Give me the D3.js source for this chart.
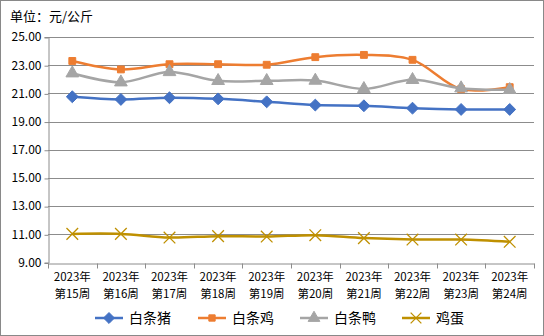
<!DOCTYPE html>
<html><head><meta charset="utf-8">
<script src="https://cdn.jsdelivr.net/npm/d3@7"></script>
<style>body{margin:0;background:#fff}svg{display:block}text{font-family:"Noto Sans CJK SC","Noto Sans",sans-serif;fill:#000}</style>
</head><body><svg id="c" width="544" height="336"></svg>
<script>
const categories = ["2023年|第15周","2023年|第16周","2023年|第17周","2023年|第18周","2023年|第19周","2023年|第20周","2023年|第21周","2023年|第22周","2023年|第23周","2023年|第24周"];
const pork = [20.76,20.57,20.69,20.61,20.40,20.17,20.12,19.95,19.86,19.86];
const chicken = [23.30,22.70,23.07,23.07,23.03,23.57,23.73,23.38,21.30,21.44];
const duck = [22.43,21.79,22.52,21.89,21.89,21.91,21.32,21.96,21.37,21.25];
const egg = [11.03,11.03,10.77,10.87,10.84,10.94,10.73,10.63,10.63,10.47];
const yTicks = [9,11,13,15,17,19,21,23,25];
const seriesNames = ["白条猪","白条鸡","白条鸭","鸡蛋"];
const title = "单位：元/公斤";

const svg = d3.select("#c");
svg.append("rect").attr("x",0.5).attr("y",0.5).attr("width",543).attr("height",335).attr("fill","#fff").attr("stroke","#898989");
svg.append("text").attr("x",10).attr("y",21).attr("font-size",13).text(title);

const L=48,R=534,T=37,B=262.5;
const x = d3.scaleBand().domain(categories).range([L,R]);
const y = d3.scaleLinear().domain([9,25]).range([B,T]);

// gridlines
svg.append("g").selectAll("line").data(yTicks.filter(d=>d>9)).join("line")
 .attr("x1",L).attr("x2",R).attr("y1",d=>Math.round(y(d))+0.5).attr("y2",d=>Math.round(y(d))+0.5)
 .attr("stroke","#8c8c8c").attr("stroke-width",1);

// y axis
const ya = svg.append("g").attr("transform",`translate(${L+0.5},0)`)
 .call(d3.axisLeft(y).tickValues(yTicks).tickFormat(d3.format(".2f")).tickSize(4).tickPadding(3));
ya.select(".domain").attr("stroke","#8c8c8c");
ya.selectAll(".tick line").attr("stroke","#8c8c8c").attr("transform","translate(0,0.5)");
ya.selectAll(".tick text").attr("font-size",12).attr("font-family","'Noto Sans CJK SC',sans-serif").attr("fill","#000");

// x axis
const xa = svg.append("g").attr("transform",`translate(0,${Math.round(B)+0.5})`)
 .call(d3.axisBottom(x).tickSize(0).tickFormat(""));
xa.select(".domain").attr("stroke","#8c8c8c");
xa.selectAll(".tick").remove();
const bounds = d3.range(categories.length+1).map(i=>L+i*x.step());
xa.selectAll("line.tk").data(bounds).join("line").attr("class","tk")
 .attr("x1",d=>Math.round(d)+0.5).attr("x2",d=>Math.round(d)+0.5).attr("y1",0).attr("y2",5).attr("stroke","#8c8c8c");
const xl = svg.append("g").selectAll("text").data(categories).join("text")
 .attr("x",d=>x(d)+x.bandwidth()/2).attr("text-anchor","middle").attr("font-size",11.5);
xl.append("tspan").attr("x",d=>x(d)+x.bandwidth()/2).attr("y",281).text(d=>d.split("|")[0]);
xl.append("tspan").attr("x",d=>x(d)+x.bandwidth()/2).attr("y",298).text(d=>d.split("|")[1]);

const colors = ["#4472C4","#ED7D31","#A5A5A5","#BF9000"];
const symbols = [d3.symbolDiamond2, d3.symbolSquare2, d3.symbolTriangle, d3.symbolX];
const datas = [pork,chicken,duck,egg];
const line = d3.line().x((d,i)=>x(categories[i])+x.bandwidth()/2).y(d=>y(d)).curve(d3.curveCatmullRom.alpha(0.5));

function marker(g,k,cx,cy,scale){
  const c = colors[k];
  if(k===0){
    g.append("path").attr("d",d3.symbol(d3.symbolDiamond2,90*scale)()).attr("transform",`translate(${cx},${cy})`).attr("fill",c).attr("stroke",c);
  } else if(k===1){
    g.append("path").attr("d",d3.symbol(d3.symbolSquare2,60*scale)()).attr("transform",`translate(${cx},${cy})`).attr("fill",c).attr("stroke",c).attr("stroke-width",1);
  } else if(k===2){
    g.append("path").attr("d",d3.symbol(d3.symbolTriangle,70*scale)()).attr("transform",`translate(${cx},${cy})`).attr("fill",c).attr("stroke",c);
  } else {
    g.append("path").attr("d",d3.symbol(d3.symbolX,90*scale)()).attr("transform",`translate(${cx},${cy})`).attr("fill","none").attr("stroke",c).attr("stroke-width",1.3);
  }
}

datas.forEach((data,k)=>{
  const g = svg.append("g");
  g.append("path").datum(data).attr("d",line).attr("fill","none").attr("stroke",colors[k]).attr("stroke-width",2.5).attr("stroke-linejoin","round");
  data.forEach((v,i)=>marker(g,k,x(categories[i])+x.bandwidth()/2,y(v),1));
});

// legend
const legX = [95,198,300,402];
seriesNames.forEach((n,k)=>{
  const g = svg.append("g");
  g.append("line").attr("x1",legX[k]).attr("x2",legX[k]+28).attr("y1",318).attr("y2",318).attr("stroke",colors[k]).attr("stroke-width",2.5);
  marker(g,k,legX[k]+14,318,0.85);
  g.append("text").attr("x",legX[k]+34).attr("y",323).attr("font-size",14).text(n);
});
</script></body></html>
